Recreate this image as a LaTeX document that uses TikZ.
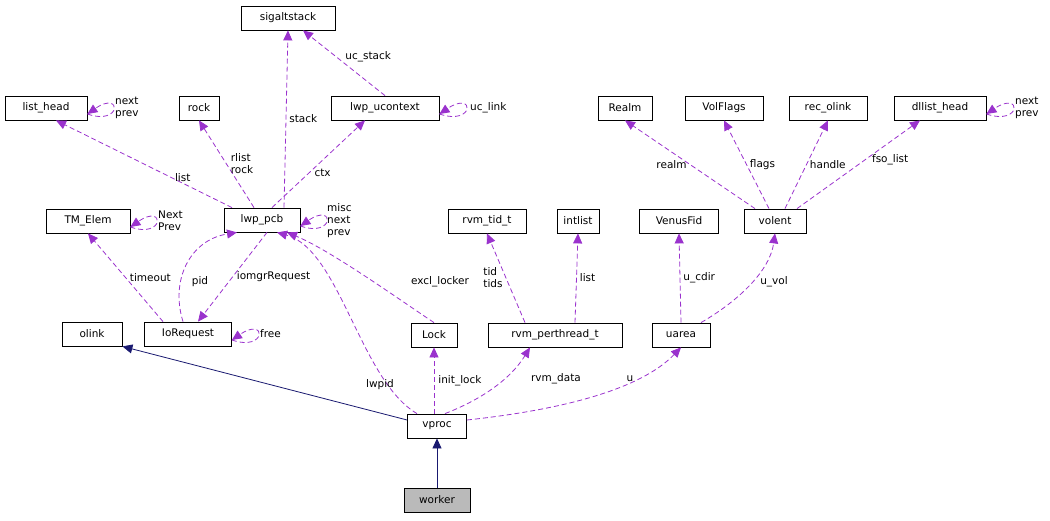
\documentclass[tikz,border=0pt]{standalone}
\usepackage{fontspec}
\setmainfont{DejaVu Sans}
\usetikzlibrary{arrows.meta}
\definecolor{dep}{HTML}{9A32CD}
\definecolor{inh}{HTML}{191970}
\begin{document}
\begin{tikzpicture}[x=1pt,y=-1pt,
  box/.style={draw,thick,minimum height=24pt,inner sep=2pt,font=\fontsize{10.5}{11}\selectfont},
  lab/.style={text=black,font=\fontsize{10.5}{12}\selectfont,align=left,inner sep=1pt},
  use/.style={dep,thick,dash pattern=on 5pt off 3pt,-{Triangle[length=10pt,width=9pt]}},
  isa/.style={inh,thick,-{Triangle[length=10pt,width=9pt]}}]
\useasboundingbox (0,0) rectangle (1050,520);
\node[box,minimum width=94pt] (sig) at (288,18) {sigaltstack};
\node[box,minimum width=82pt] (lh) at (46,108) {list\_head};
\node[box,minimum width=40pt] (rock) at (199,108) {rock};
\node[box,minimum width=108pt] (uc) at (385,108) {lwp\_ucontext};
\node[box,minimum width=54pt] (realm) at (625,108) {Realm};
\node[box,minimum width=78pt] (vf) at (724,108) {VolFlags};
\node[box,minimum width=78pt] (ro) at (828,108) {rec\_olink};
\node[box,minimum width=92pt] (dl) at (940,108) {dllist\_head};
\node[box,minimum width=84pt] (tm) at (88,221) {TM\_Elem};
\node[box,minimum width=76pt] (pcb) at (262,220) {lwp\_pcb};
\node[box,minimum width=78pt] (tid) at (487,221) {rvm\_tid\_t};
\node[box,minimum width=42pt] (il) at (578,221) {intlist};
\node[box,minimum width=79pt] (vfid) at (679,221) {VenusFid};
\node[box,minimum width=62pt] (vol) at (775,221) {volent};
\node[box,minimum width=60pt] (ol) at (92,334) {olink};
\node[box,minimum width=87pt] (io) at (188,334) {IoRequest};
\node[box,minimum width=46pt] (lock) at (434,335) {Lock};
\node[box,minimum width=134pt] (rpt) at (555,335) {rvm\_perthread\_t};
\node[box,minimum width=58pt] (ua) at (681,335) {uarea};
\node[box,minimum width=59pt] (vp) at (437,426) {vproc};
\node[box,minimum width=66pt,fill=black!27] (wk) at (437,500) {worker};

\draw[use] (pcb.north) ++(22,0) -- (sig.south) node[lab,pos=0.5,right=2pt]{stack};
\draw[use] (uc.north) -- ([xshift=15pt]sig.south) node[lab,pos=0.5,above right]{uc\_stack};
\draw[use] (uc.east) ++(0,6) .. controls (475,126) and (475,90) .. ([yshift=-6]uc.east);
\node[lab,anchor=west] at (469,108) {uc\_link};
\draw[use] (pcb.north) ++(-30,0) -- ([xshift=10pt]lh.south) node[lab,pos=0.28,above]{list};
\draw[use] (pcb.north) ++(-8,0) -- (rock.south) node[lab,pos=0.5,right=3pt]{rlist\\rock};
\draw[use] (pcb.north) ++(10,0) -- ([xshift=-20pt]uc.south) node[lab,pos=0.4,right=4pt]{ctx};
\draw[use] (lh.east) ++(0,6) .. controls (122,126) and (122,90) .. ([yshift=-6]lh.east);
\node[lab,anchor=west] at (114,108) {next\\prev};
\draw[use] (pcb.east) ++(0,6) .. controls (335,238) and (335,202) .. ([yshift=-6]pcb.east);
\node[lab,anchor=west] at (326,221) {misc\\next\\prev};
\draw[use] (tm.east) ++(0,6) .. controls (165,239) and (165,203) .. ([yshift=-6]tm.east);
\node[lab,anchor=west] at (157,221) {Next\\Prev};
\draw[use] (io.east) ++(0,6) .. controls (267,352) and (267,316) .. ([yshift=-6]io.east);
\node[lab,anchor=west] at (259,334) {free};
\draw[use] (dl.east) ++(0,6) .. controls (1022,126) and (1022,90) .. ([yshift=-6]dl.east);
\node[lab,anchor=west] at (1014,108) {next\\prev};

\draw[use] (vol.north) ++(-20,0) -- (realm.south) node[lab,pos=0.5,left=2pt]{realm};
\draw[use] (vol.north) ++(-6,0) -- (vf.south) node[lab,pos=0.5,right=2pt]{flags};
\draw[use] (vol.north) ++(10,0) -- (ro.south) node[lab,pos=0.5,right=2pt]{handle};
\draw[use] (vol.north) ++(22,0) -- ([xshift=-20pt]dl.south) node[lab,pos=0.55,right=6pt]{fso\_list};

\draw[use] (io.north) ++(-25,0) -- (tm.south) node[lab,pos=0.5,right=3pt]{timeout};
\draw[use] (io.north) ++(-5,0) .. controls (170,280) and (190,240) .. ([xshift=-25pt]pcb.south);
\node[lab] at (200,282) {pid};
\draw[use] (pcb.south) ++(5,0) -- ([xshift=10pt]io.north) node[lab,pos=0.5,right=3pt]{iomgrRequest};
\draw[use] (lock.north) .. controls (400,300) and (330,250) .. ([xshift=25pt]pcb.south);
\node[lab] at (440,282) {excl\_locker};
\draw[use] ([xshift=-20pt]vp.north) .. controls (360,380) and (340,250) .. ([xshift=15pt]pcb.south);
\node[lab] at (380,385) {lwpid};
\draw[use] (rpt.north) ++(-30,0) -- (tid.south) node[lab,pos=0.5,left=2pt]{tid\\tids};
\draw[use] (rpt.north) ++(20,0) -- (il.south) node[lab,pos=0.5,right=2pt]{list};
\draw[use] (ua.north) -- ([xshift=0pt]vfid.south) node[lab,pos=0.5,right=2pt]{u\_cdir};
\draw[use] (ua.north) ++(20,0) .. controls (740,300) and (770,270) .. (vol.south);
\node[lab] at (774,282) {u\_vol};
\draw[use] (vp.north) ++(-3,0) -- (lock.south) node[lab,pos=0.5,right=3pt]{init\_lock};
\draw[use] (vp.north) ++(8,0) .. controls (480,400) and (510,380) .. ([xshift=-25pt]rpt.south);
\node[lab] at (556,379) {rvm\_data};
\draw[use] (vp.east) ++(0,-6) .. controls (560,410) and (640,390) .. (ua.south);
\node[lab] at (630,379) {u};
\draw[isa] (vp.west) ++(0,-6) -- (ol.south east);
\draw[isa] (wk.north) -- (vp.south);
\end{tikzpicture}
\end{document}
